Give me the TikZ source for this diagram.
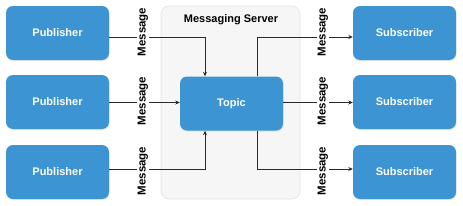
\documentclass[tikz,border=0pt]{standalone}
\usepackage{fontspec}
\setmainfont{Liberation Sans}
\usetikzlibrary{arrows.meta,calc,shadows}
\definecolor{boxblue}{HTML}{3D94D3}
\definecolor{srvfill}{HTML}{F6F6F6}
\definecolor{srvline}{HTML}{E2E2E2}
\definecolor{lineclr}{HTML}{2A2A2A}
\tikzset{
  bluebox/.style={draw=none, fill=boxblue, rounded corners=7pt, minimum width=103pt, minimum height=54pt,
    text=white, font=\fontsize{11}{13}\selectfont\bfseries,
    drop shadow={opacity=0.18, shadow xshift=0.6pt, shadow yshift=-1pt}},
  serverbox/.style={draw=srvline, fill=srvfill, line width=0.6pt, rounded corners=8pt, minimum width=139pt, minimum height=193pt},
  conn/.style={draw=lineclr, line width=0.8pt, -{Stealth[length=4.5pt,width=4pt]}},
  msglabel/.style={fill=white, rotate=90, inner sep=1.2pt, font=\fontsize{11.5}{13}\selectfont\bfseries}
}
\begin{document}
\begin{tikzpicture}[x=1pt,y=-1pt]
\useasboundingbox (0,0) rectangle (463,206);
\node[serverbox] (srv) at (230.5,102.5) {};
\node[font=\fontsize{11}{13}\selectfont\bfseries] (title) at (231,20) {Messaging Server};

\node[bluebox] (p1) at (57.5,33) {Publisher};
\node[bluebox] (p2) at (57.5,102) {Publisher};
\node[bluebox] (p3) at (57.5,172) {Publisher};
\node[bluebox] (t) at (231.5,103.5) {Topic};
\node[bluebox] (s1) at (404.5,33) {Subscriber};
\node[bluebox] (s2) at (404.5,102) {Subscriber};
\node[bluebox] (s3) at (404.5,172) {Subscriber};

\draw[conn] ($(p1.east)+(0,4)$) -| ($(t.north)+(-26.5,0)$);
\draw[conn] ($(p2.east)+(0,0.5)$) -- ($(t.west)+(0,-1)$);
\draw[conn] ($(p3.east)+(0,-3)$) -| ($(t.south)+(-26.5,0)$);
\draw[conn] ($(t.north)+(25.5,0)$) |- ($(s1.west)+(0,4)$);
\draw[conn] ($(t.east)+(0,-1)$) -- ($(s2.west)+(0,0.5)$);
\draw[conn] ($(t.south)+(25.5,0)$) |- ($(s3.west)+(0,-3)$);

\node[msglabel] (m1) at (143,32) {Message};
\node[msglabel] (m2) at (143,101) {Message};
\node[msglabel] (m3) at (143,171) {Message};
\node[msglabel] (m4) at (323,32) {Message};
\node[msglabel] (m5) at (323,101) {Message};
\node[msglabel] (m6) at (323,171) {Message};
\end{tikzpicture}
\end{document}
